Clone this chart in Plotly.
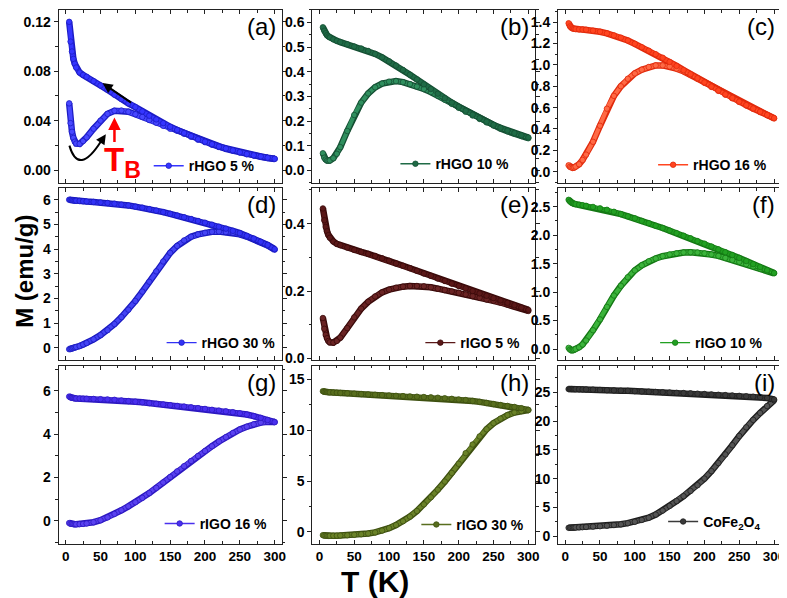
import plotly.graph_objects as go

# ---------------- data ----------------
T_K = [5, 7, 9, 11, 13, 15, 20, 25, 30, 40, 50, 60, 70, 80, 90, 100, 110, 120, 130, 140, 150,
       160, 170, 180, 190, 200, 210, 220, 230, 240, 250, 260, 270, 280, 290, 300]

FC_A = [0.120, 0.104, 0.096, 0.090, 0.086, 0.083, 0.079, 0.077, 0.0755,
        0.072, 0.0685, 0.065, 0.061, 0.0575, 0.054, 0.051, 0.0475, 0.044, 0.041, 0.038, 0.035,
        0.0325, 0.030, 0.0275, 0.025, 0.023, 0.021, 0.019, 0.0175, 0.016, 0.0145, 0.013, 0.012, 0.011, 0.010, 0.0092]
ZFC_A = [0.054, 0.038, 0.031, 0.026, 0.023, 0.0215, 0.0212, 0.0235, 0.0265,
         0.0335, 0.040, 0.0455, 0.048, 0.0482, 0.0472, 0.0452, 0.043, 0.0405, 0.0383, 0.0358, 0.0335,
         0.0318, 0.0294, 0.027, 0.0246, 0.0226, 0.0206, 0.0187, 0.0172, 0.0157, 0.0142, 0.0128, 0.0118, 0.0108, 0.0098, 0.009]

FC_B = [0.58, 0.566, 0.556, 0.548, 0.543, 0.539, 0.531, 0.525, 0.52,
        0.511, 0.502, 0.494, 0.484, 0.472, 0.458, 0.442, 0.425, 0.407, 0.388, 0.369, 0.349,
        0.33, 0.311, 0.293, 0.275, 0.258, 0.242, 0.226, 0.212, 0.198, 0.185, 0.173, 0.162, 0.152, 0.143, 0.134]
ZFC_B = [0.07, 0.052, 0.045, 0.041, 0.040, 0.041, 0.05, 0.068, 0.095,
         0.16, 0.225, 0.275, 0.312, 0.337, 0.352, 0.36, 0.362, 0.358, 0.35, 0.34, 0.33,
         0.318, 0.303, 0.287, 0.270, 0.254, 0.238, 0.223, 0.209, 0.195, 0.182, 0.170, 0.159, 0.149, 0.140, 0.131]

FC_C = [1.39, 1.36, 1.35, 1.342, 1.338, 1.335, 1.333, 1.331, 1.329,
        1.32, 1.31, 1.295, 1.276, 1.255, 1.228, 1.197, 1.165, 1.133, 1.1, 1.067, 1.028,
        0.99, 0.951, 0.913, 0.875, 0.836, 0.797, 0.76, 0.724, 0.69, 0.656, 0.623, 0.592, 0.561, 0.531, 0.502]
ZFC_C = [0.06, 0.045, 0.039, 0.037, 0.04, 0.048, 0.07, 0.11, 0.16,
         0.28, 0.43, 0.59, 0.71, 0.80, 0.87, 0.92, 0.955, 0.98, 0.995, 0.995, 0.985,
         0.965, 0.94, 0.906, 0.87, 0.832, 0.794, 0.757, 0.721, 0.687, 0.653, 0.62, 0.589, 0.558, 0.528, 0.499]

FC_D = [6.0, 5.99, 5.98, 5.97, 5.96, 5.96, 5.95, 5.94, 5.93,
        5.91, 5.89, 5.87, 5.84, 5.80, 5.77, 5.72, 5.68, 5.62, 5.56, 5.50, 5.43,
        5.36, 5.29, 5.22, 5.14, 5.07, 4.99, 4.91, 4.83, 4.74, 4.65, 4.54, 4.43, 4.3, 4.17, 4.0]
ZFC_D = [-0.05, -0.04, -0.02, 0.0, 0.02, 0.04, 0.08, 0.14, 0.2,
         0.35, 0.52, 0.72, 0.97, 1.25, 1.55, 1.9, 2.28, 2.68, 3.1, 3.5, 3.85,
         4.13, 4.35, 4.5, 4.6, 4.66, 4.7, 4.71, 4.69, 4.66, 4.6, 4.51, 4.41, 4.28, 4.15, 3.98]

FC_E = [0.445, 0.41, 0.39, 0.377, 0.366, 0.358, 0.347, 0.34, 0.336,
        0.329, 0.322, 0.316, 0.31, 0.304, 0.297, 0.29, 0.282, 0.275, 0.268, 0.26, 0.252,
        0.245, 0.237, 0.23, 0.222, 0.215, 0.208, 0.2, 0.193, 0.186, 0.179, 0.172, 0.165, 0.158, 0.151, 0.144]
ZFC_E = [0.12, 0.088, 0.07, 0.06, 0.052, 0.048, 0.047, 0.052, 0.062,
         0.09, 0.122, 0.148, 0.168, 0.184, 0.196, 0.204, 0.21, 0.213, 0.215, 0.215, 0.214,
         0.211, 0.207, 0.203, 0.199, 0.195, 0.19, 0.185, 0.18, 0.175, 0.171, 0.166, 0.16, 0.154, 0.148, 0.141]

FC_F = [2.62, 2.59, 2.57, 2.56, 2.55, 2.545, 2.535, 2.525, 2.515,
        2.495, 2.47, 2.445, 2.41, 2.37, 2.33, 2.295, 2.25, 2.21, 2.165, 2.125, 2.08,
        2.035, 1.99, 1.945, 1.895, 1.85, 1.8, 1.75, 1.7, 1.65, 1.6, 1.545, 1.49, 1.44, 1.385, 1.335]
ZFC_F = [0.02, -0.01, -0.02, -0.02, -0.015, 0.0, 0.03, 0.08, 0.15,
         0.33, 0.52, 0.74, 0.94, 1.11, 1.26, 1.38, 1.47, 1.54, 1.59, 1.63, 1.66,
         1.68, 1.695, 1.70, 1.695, 1.68, 1.66, 1.635, 1.6, 1.565, 1.53, 1.49, 1.45, 1.41, 1.37, 1.33]

FC_G = [5.73, 5.69, 5.67, 5.66, 5.65, 5.645, 5.64, 5.635, 5.63,
        5.62, 5.61, 5.6, 5.58, 5.55, 5.52, 5.495, 5.465, 5.43, 5.395, 5.365, 5.335,
        5.3, 5.27, 5.235, 5.2, 5.16, 5.12, 5.085, 5.05, 5.01, 4.96, 4.9, 4.83, 4.75, 4.65, 4.55]
ZFC_G = [-0.1, -0.13, -0.14, -0.15, -0.155, -0.155, -0.15, -0.14, -0.12,
         -0.06, 0.03, 0.16, 0.32, 0.49, 0.67, 0.86, 1.06, 1.28, 1.52, 1.77, 2.02,
         2.28, 2.52, 2.76, 2.99, 3.22, 3.44, 3.66, 3.86, 4.05, 4.21, 4.34, 4.45, 4.53, 4.57, 4.56]

FC_H = [13.85, 13.8, 13.78, 13.76, 13.75, 13.74, 13.72, 13.7, 13.68,
        13.65, 13.61, 13.57, 13.54, 13.5, 13.47, 13.43, 13.4, 13.37, 13.34, 13.31, 13.28,
        13.25, 13.21, 13.16, 13.1, 13.04, 12.98, 12.89, 12.8, 12.7, 12.59, 12.49, 12.4, 12.3, 12.18, 12.0]
ZFC_H = [-0.33, -0.36, -0.38, -0.39, -0.4, -0.4, -0.39, -0.38, -0.37,
         -0.34, -0.3, -0.24, -0.17, -0.06, 0.12, 0.36, 0.66, 1.04, 1.5, 2.05, 2.7,
         3.4, 4.15, 4.95, 5.8, 6.7, 7.75, 8.6, 9.4, 10.1, 10.7, 11.15, 11.5, 11.75, 11.9, 12.0]

FC_I = [25.55, 25.55, 25.54, 25.54, 25.53, 25.53, 25.52, 25.5, 25.49,
        25.45, 25.4, 25.36, 25.32, 25.28, 25.24, 25.19, 25.14, 25.1, 25.05, 25.0, 24.95,
        24.9, 24.86, 24.81, 24.75, 24.69, 24.62, 24.56, 24.5, 24.44, 24.37, 24.3, 24.23, 24.15, 24.0, 23.75]
ZFC_I = [1.45, 1.46, 1.47, 1.48, 1.5, 1.51, 1.54, 1.57, 1.6,
         1.66, 1.73, 1.82, 1.93, 2.06, 2.26, 2.5, 2.82, 3.2, 3.75, 4.45, 5.25,
         6.1, 6.95, 7.85, 8.85, 10.0, 11.3, 12.7, 14.2, 15.8, 17.4, 18.9, 20.2, 21.4, 22.6, 23.6]

LABELS = ["rHGO 5 %", "rHGO 10 %", "rHGO 16 %", "rHGO 30 %", "rIGO 5 %",
          "rIGO 10 %", "rIGO 16 %", "rIGO 30 %", "CoFe<sub>2</sub>O<sub>4</sub>"]
TAGS = ["(a)", "(b)", "(c)", "(d)", "(e)", "(f)", "(g)", "(h)", "(i)"]
X_TICKS = [0, 50, 100, 150, 200, 250, 300]
Y_TICKS = [[0, 0.04, 0.08, 0.12],
           [0, 0.1, 0.2, 0.3, 0.4, 0.5, 0.6],
           [0, 0.2, 0.4, 0.6, 0.8, 1.0, 1.2, 1.4],
           [0, 1, 2, 3, 4, 5, 6],
           [0, 0.2, 0.4],
           [0, 0.5, 1.0, 1.5, 2.0, 2.5],
           [0, 2, 4, 6],
           [0, 5, 10, 15],
           [0, 5, 10, 15, 20, 25]]

FC = [FC_A, FC_B, FC_C, FC_D, FC_E, FC_F, FC_G, FC_H, FC_I]
ZFC = [ZFC_A, ZFC_B, ZFC_C, ZFC_D, ZFC_E, ZFC_F, ZFC_G, ZFC_H, ZFC_I]

# ---------------- styling ----------------
Y_RANGES = [[-0.0104, 0.1296], [-0.05, 0.65], [-0.105, 1.514],
            [-0.48, 6.48], [-0.004, 0.506], [-0.19, 2.83],
            [-1.05, 7.15], [-1.17, 16.36], [-1.3, 29.6]]
Y_MINOR = [0.02, 0.05, 0.1, 0.5, 0.1, 0.25, 1, 2.5, 2.5]
Y_FMT = ["{:.2f}", "{:.1f}", "{:.1f}", "{:d}", "{:.1f}", "{:.1f}", "{:d}", "{:d}", "{:d}"]
# (FC colour, ZFC colour, marker edge)
COLORS = [("#3535ff", "#4848ff", "#1c1cc4"),
          ("#1f6b46", "#2f8f5e", "#154f33"),
          ("#ff4520", "#ff6a45", "#e02a0c"),
          ("#3232f5", "#4444f5", "#1a1abf"),
          ("#5a1818", "#6a2424", "#3a0a0a"),
          ("#22a022", "#3cb43c", "#147814"),
          ("#4a30ee", "#5a42f0", "#2c18c0"),
          ("#586e1e", "#6a8228", "#3e5010"),
          ("#3a3a3a", "#555555", "#1e1e1e")]

W, H = 787, 598
COL_PX = [(51, 275), (306, 530), (553, 777)]
ROW_PX = [(2, 177), (182, 356), (362, 542)]
LEG_PX = [(253, 160), (509, 158), (768, 159),
          (274, 339), (520, 339), (764, 339),
          (266, 522), (524, 523), (762, 520)]
FONT = "Liberation Sans, Arial, sans-serif"

fig = go.Figure()
layout = {}
for k in range(9):
    r, c = divmod(k, 3)
    sfx = "" if k == 0 else str(k + 1)
    xa, ya = "x" + sfx, "y" + sfx
    fcol, zcol, edge = COLORS[k]
    leg = "legend" + sfx

    # thick bands imitating the dense overlapping markers
    for ys, col in ((ZFC[k], zcol), (FC[k], fcol)):
        fig.add_trace(go.Scatter(x=T_K, y=ys, mode="lines", xaxis=xa, yaxis=ya,
                                 line=dict(color=edge, width=6.5), showlegend=False,
                                 hoverinfo="skip"))
        fig.add_trace(go.Scatter(x=T_K, y=ys, mode="lines", xaxis=xa, yaxis=ya,
                                 line=dict(color=col, width=4), showlegend=False,
                                 hoverinfo="skip"))
    for i, (ys, col) in enumerate(((ZFC[k], zcol), (FC[k], fcol))):
        fig.add_trace(go.Scatter(x=T_K, y=ys, mode="lines+markers", name="<b>" + LABELS[k] + "</b>",
                                 xaxis=xa, yaxis=ya, legend=leg, showlegend=(i == 1),
                                 line=dict(color=col, width=1.3),
                                 marker=dict(symbol="circle", size=5.5, color=col,
                                             line=dict(color=edge, width=0.8))))

    c0, c1 = COL_PX[c]
    r0, r1 = ROW_PX[r]
    layout["xaxis" + sfx] = dict(
        domain=[c0 / W, c1 / W], range=[-10, 310], anchor=ya,
        tickmode="array", tickvals=X_TICKS, ticktext=["<b>%d</b>" % v for v in X_TICKS],
        ticks="inside", ticklen=4, tickwidth=1.2, tickcolor="#222",
        minor=dict(dtick=25, tick0=0, ticks="inside", ticklen=2.5, tickwidth=1, tickcolor="#222"),
        showline=True, linecolor="#222", linewidth=1.3, mirror="allticks",
        showgrid=False, zeroline=False, showticklabels=(r == 2),
        tickfont=dict(family=FONT, size=13.5, color="#000"))
    layout["yaxis" + sfx] = dict(
        domain=[1 - r1 / H, 1 - r0 / H], range=Y_RANGES[k], anchor=xa,
        tickmode="array", tickvals=Y_TICKS[k],
        ticktext=["<b>" + Y_FMT[k].format(v) + "</b>" for v in Y_TICKS[k]],
        ticks="outside", ticklen=4, tickwidth=1.2, tickcolor="#222",
        minor=dict(dtick=Y_MINOR[k], tick0=0, ticks="outside", ticklen=2.5, tickwidth=1, tickcolor="#222"),
        showline=True, linecolor="#222", linewidth=1.3, mirror="allticks",
        showgrid=False, zeroline=False,
        tickfont=dict(family=FONT, size=14, color="#000"))
    lx, ly = LEG_PX[k]
    layout[leg] = dict(x=lx / W, y=1 - ly / H, xanchor="right", yanchor="middle",
                       bgcolor="rgba(0,0,0,0)", borderwidth=0,
                       font=dict(family=FONT, size=14, color="#000"),
                       itemwidth=30, tracegroupgap=0)

annotations = []
for k in range(9):
    r, c = divmod(k, 3)
    annotations.append(dict(text=TAGS[k], xref="paper", yref="paper",
                            x=(COL_PX[c][1] - 4) / W, y=1 - (ROW_PX[r][0] + 17) / H,
                            xanchor="right", yanchor="middle", showarrow=False,
                            font=dict(family=FONT, size=24, color="#000")))

# axis titles
annotations.append(dict(text="<b>M (emu/g)</b>", xref="paper", yref="paper", x=17 / W, y=1 - 266 / H,
                        textangle=-90, showarrow=False, xanchor="center", yanchor="middle",
                        font=dict(family=FONT, size=24, color="#000")))
annotations.append(dict(text="<b>T (K)</b>", xref="paper", yref="paper", x=369 / W, y=1 - 580 / H,
                        showarrow=False, xanchor="center", yanchor="middle",
                        font=dict(family=FONT, size=30, color="#000")))

# panel (a) decorations
annotations.append(dict(x=70, y=0.0425, ax=70, ay=0.0215, xref="x", yref="y", axref="x", ayref="y",
                        text="", showarrow=True, arrowhead=2, arrowsize=1, arrowwidth=2.5,
                        arrowcolor="#ff0000"))
annotations.append(dict(x=82, y=0.0062, xref="x", yref="y", text="<b>T<sub>B</sub></b>", showarrow=False,
                        font=dict(family=FONT, size=33, color="#ff0000")))
annotations.append(dict(x=53, y=0.0704, ax=96, ay=0.0538, xref="x", yref="y", axref="x", ayref="y",
                        text="", showarrow=True, arrowhead=2, arrowsize=1, arrowwidth=2,
                        arrowcolor="#000"))
annotations.append(dict(x=57.6, y=0.029, ax=50, ay=0.0225, xref="x", yref="y", axref="x", ayref="y",
                        text="", showarrow=True, arrowhead=2, arrowsize=1, arrowwidth=2,
                        arrowcolor="#000"))

shapes = [dict(type="path", xref="x", yref="y",
               path="M 5.3,0.0198 Q 18.5,-0.0054 51,0.0235",
               line=dict(color="#000", width=2))]

fig.update_layout(**layout)
fig.update_layout(width=W, height=H, autosize=False,
                  margin=dict(l=0, r=0, t=0, b=0),
                  paper_bgcolor="white", plot_bgcolor="white",
                  annotations=annotations, shapes=shapes,
                  font=dict(family=FONT, color="#000"))

fig.write_html("out.html")
